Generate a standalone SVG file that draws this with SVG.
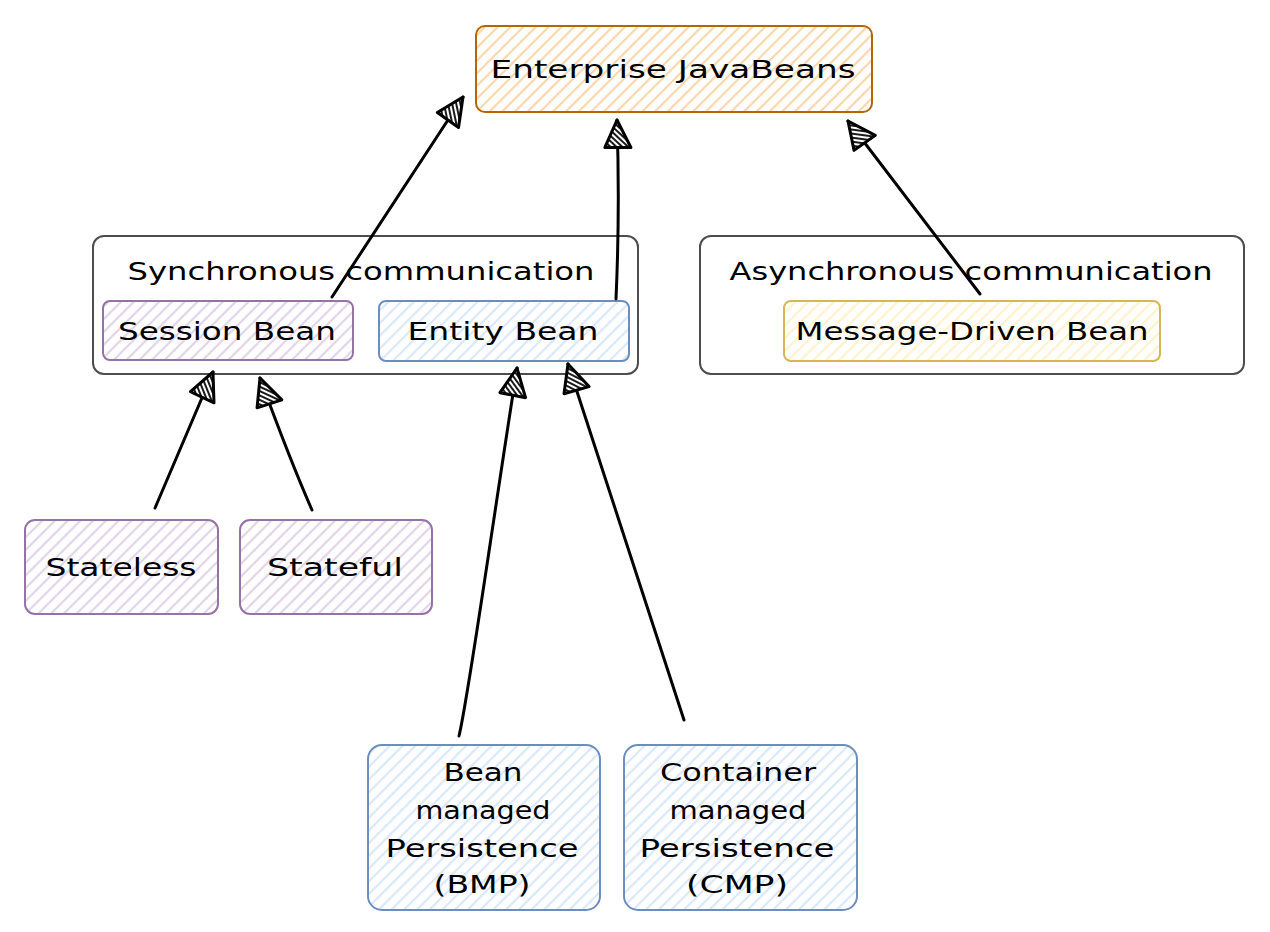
<svg xmlns="http://www.w3.org/2000/svg" width="1270" height="932" viewBox="0 0 1270 932">
<defs>
<pattern id="hOrange" patternUnits="userSpaceOnUse" width="9" height="9" patternTransform="rotate(45)"><rect width="9" height="9" fill="#ffffff"/><line x1="2" y1="0" x2="2" y2="9" stroke="#fad7ac" stroke-width="2.2"/></pattern>
<pattern id="hPurple" patternUnits="userSpaceOnUse" width="9" height="9" patternTransform="rotate(45)"><rect width="9" height="9" fill="#ffffff"/><line x1="2" y1="0" x2="2" y2="9" stroke="#e1d5e7" stroke-width="2.2"/></pattern>
<pattern id="hBlue" patternUnits="userSpaceOnUse" width="9" height="9" patternTransform="rotate(45)"><rect width="9" height="9" fill="#ffffff"/><line x1="2" y1="0" x2="2" y2="9" stroke="#dae8fc" stroke-width="2.2"/></pattern>
<pattern id="hYellow" patternUnits="userSpaceOnUse" width="9" height="9" patternTransform="rotate(45)"><rect width="9" height="9" fill="#ffffff"/><line x1="2" y1="0" x2="2" y2="9" stroke="#fff2cc" stroke-width="2.2"/></pattern>
<pattern id="hBlack" patternUnits="userSpaceOnUse" width="4" height="4" patternTransform="rotate(45)"><rect width="4" height="4" fill="#ffffff"/><line x1="1" y1="0" x2="1" y2="4" stroke="#000000" stroke-width="1.8"/></pattern>
<marker id="inh" markerUnits="userSpaceOnUse" viewBox="-2 -2 32 30" refX="28" refY="13" markerWidth="32" markerHeight="30" orient="auto">
<path d="M1,0 L28,13 L0,26 Z" fill="url(#hBlack)" stroke="#000" stroke-width="3" stroke-linejoin="round"/>
</marker>
<style>
text{font-family:"DejaVu Sans","Liberation Sans",sans-serif;font-size:24px;fill:#000;text-anchor:middle}
.box{stroke-width:2}
.cont{fill:#ffffff;stroke:#4d4d4d;stroke-width:2}
.orange{fill:url(#hOrange);stroke:#b46504}
.purple{fill:url(#hPurple);stroke:#9673a6}
.blue{fill:url(#hBlue);stroke:#6c8ebf}
.yellow{fill:url(#hYellow);stroke:#d6b656}
.conn{fill:none;stroke:#000;stroke-width:3;stroke-linecap:round;marker-end:url(#inh)}
</style>
</defs>
<rect width="1270" height="932" fill="#ffffff"/>

<g id="ejb">
<rect class="box orange" x="476" y="26" width="396" height="86" rx="9"/>
<text x="673" y="78" textLength="365" lengthAdjust="spacingAndGlyphs">Enterprise JavaBeans</text>
</g>

<g id="sync">
<rect class="cont" x="93" y="236" width="545" height="138" rx="11"/>
<text x="361" y="280" textLength="467" lengthAdjust="spacingAndGlyphs">Synchronous communication</text>
</g>

<g id="async">
<rect class="cont" x="700" y="236" width="544" height="138" rx="11"/>
<text x="971" y="280" textLength="483" lengthAdjust="spacingAndGlyphs">Asynchronous communication</text>
</g>

<g id="session">
<rect class="box purple" x="103" y="301" width="250" height="59" rx="7"/>
<text x="227" y="340" textLength="218" lengthAdjust="spacingAndGlyphs">Session Bean</text>
</g>

<g id="entity">
<rect class="box blue" x="379" y="301" width="250" height="60" rx="7"/>
<text x="503" y="340" textLength="191" lengthAdjust="spacingAndGlyphs">Entity Bean</text>
</g>

<g id="mdb">
<rect class="box yellow" x="784" y="301" width="376" height="60" rx="7"/>
<text x="972" y="340" textLength="353" lengthAdjust="spacingAndGlyphs">Message-Driven Bean</text>
</g>

<g id="stateless">
<rect class="box purple" x="25" y="520" width="193" height="94" rx="10"/>
<text x="121" y="576" textLength="151" lengthAdjust="spacingAndGlyphs">Stateless</text>
</g>

<g id="stateful">
<rect class="box purple" x="240" y="520" width="192" height="94" rx="10"/>
<text x="335" y="576" textLength="136" lengthAdjust="spacingAndGlyphs">Stateful</text>
</g>

<g id="bmp">
<rect class="box blue" x="368" y="745" width="232" height="165" rx="14"/>
<text x="483" y="781" textLength="79" lengthAdjust="spacingAndGlyphs">Bean</text>
<text x="483" y="819" textLength="135" lengthAdjust="spacingAndGlyphs">managed</text>
<text x="482" y="857" textLength="193" lengthAdjust="spacingAndGlyphs">Persistence</text>
<text x="482" y="893" textLength="97" lengthAdjust="spacingAndGlyphs">(BMP)</text>
</g>

<g id="cmp">
<rect class="box blue" x="624" y="745" width="233" height="165" rx="14"/>
<text x="738" y="781" textLength="156" lengthAdjust="spacingAndGlyphs">Container</text>
<text x="738" y="819" textLength="137" lengthAdjust="spacingAndGlyphs">managed</text>
<text x="737" y="857" textLength="195" lengthAdjust="spacingAndGlyphs">Persistence</text>
<text x="737" y="893" textLength="102" lengthAdjust="spacingAndGlyphs">(CMP)</text>
</g>

<g id="connectors">
<path class="conn" d="M332,297 L463,97"/>
<path class="conn" d="M616,299 Q620,210 617,120"/>
<path class="conn" d="M980,294 L848,121"/>
<path class="conn" d="M155,508 L213,372"/>
<path class="conn" d="M312,510 Q290,460 260,378"/>
<path class="conn" d="M459,736 C468,700 490,540 517,368"/>
<path class="conn" d="M684,720 L568,364"/>
</g>
</svg>
